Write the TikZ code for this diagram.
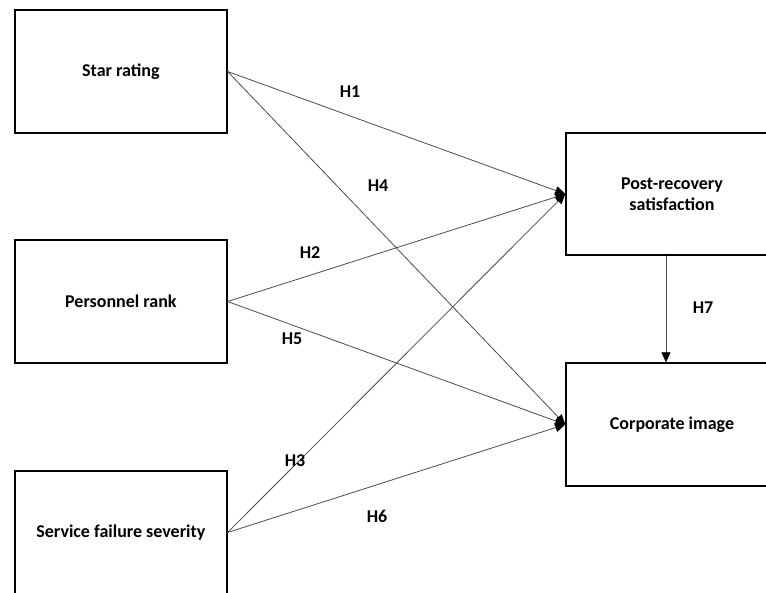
\documentclass[tikz,border=0pt]{standalone}
\usepackage{fontspec}
\setmainfont{Carlito}
\usetikzlibrary{arrows.meta}
\begin{document}
\begin{tikzpicture}[x=1pt,y=-1pt,
  box/.style={draw=black,line width=1.4pt,minimum width=212pt,minimum height=123pt,inner sep=0pt,font=\bfseries\fontsize{18}{21}\selectfont,align=center},
  link/.style={draw=black!70,line width=0.8pt,-{Triangle[length=10pt,width=9pt,fill=black,color=black]}},
  hlab/.style={font=\bfseries\fontsize{18}{21}\selectfont}]
\useasboundingbox (0,0) rectangle (766,592);
\begin{scope}
\clip (0,0) rectangle (766,592);
\node[box] (star) at (120.9,71.5) {Star rating};
\node[box] (pers) at (120.9,301.5) {Personnel rank};
\node[box] (sev) at (120.9,532.5) {Service failure severity};
\node[box,minimum height=122pt] (post) at (672,194) {Post-recovery\\satisfaction};
\node[box] (corp) at (672,424.5) {Corporate image};
\end{scope}
\draw[link] (star.east) -- (post.west);
\draw[link] (star.east) -- (corp.west);
\draw[link] (pers.east) -- (post.west);
\draw[link] (pers.east) -- (corp.west);
\draw[link] (sev.east) -- (post.west);
\draw[link] (sev.east) -- (corp.west);
\draw[link] ([xshift=-6pt]post.south) -- ([xshift=-6pt]corp.north);
\node[hlab] (h1) at (350,92) {H1};
\node[hlab] (h4) at (378,186) {H4};
\node[hlab] (h2) at (310,253) {H2};
\node[hlab] (h5) at (292,339) {H5};
\node[hlab] (h3) at (295,461) {H3};
\node[hlab] (h6) at (377,516) {H6};
\node[hlab] (h7) at (703,308) {H7};
\end{tikzpicture}
\end{document}
